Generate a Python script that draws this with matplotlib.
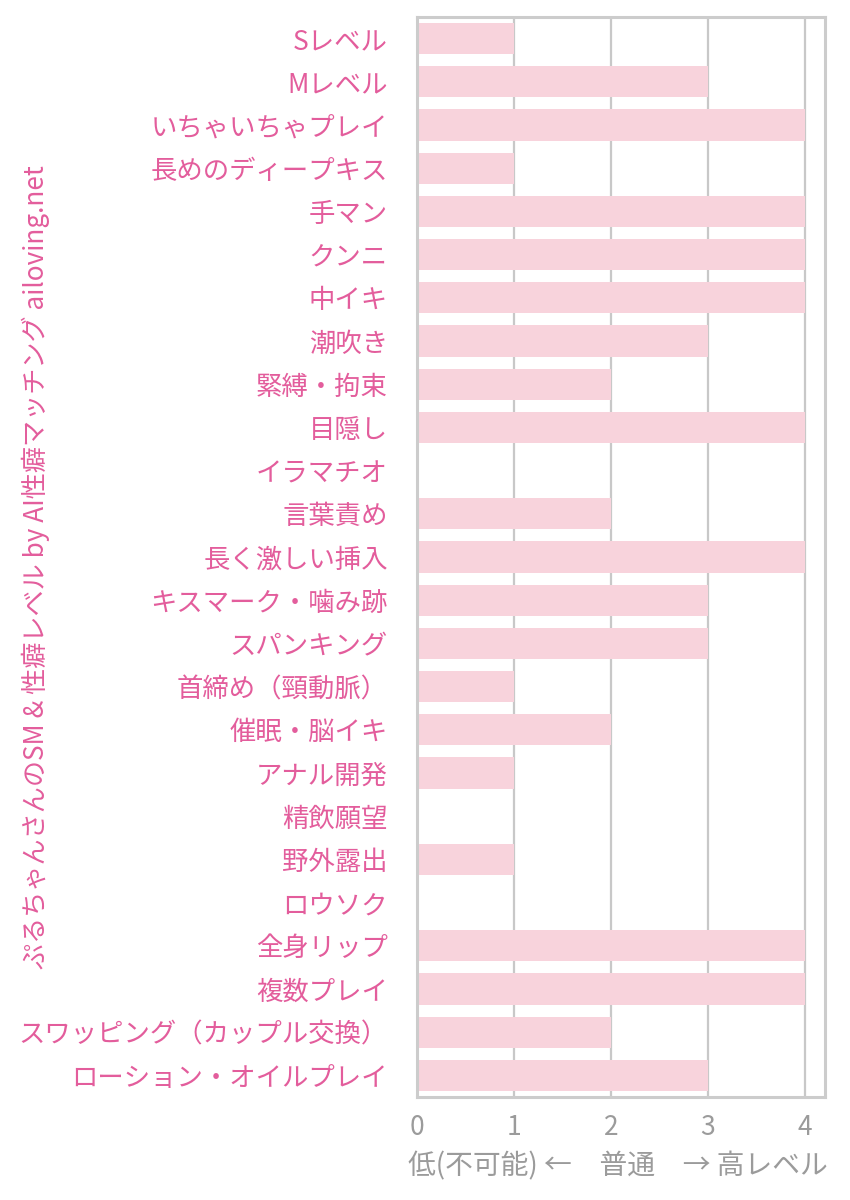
import matplotlib
matplotlib.use("Agg")
from matplotlib import pyplot as plt

plt.rcParams['font.family'] = ['Noto Sans CJK JP', 'DejaVu Sans']

# 項目と性癖レベル (0-4)
categories = [
    'Sレベル', 'Mレベル', 'いちゃいちゃプレイ', '長めのディープキス', '手マン',
    'クンニ', '中イキ', '潮吹き', '緊縛・拘束', '目隠し',
    'イラマチオ', '言葉責め', '長く激しい挿入', 'キスマーク・噛み跡', 'スパンキング',
    '首締め（頸動脈）', '催眠・脳イキ', 'アナル開発', '精飲願望', '野外露出',
    'ロウソク', '全身リップ', '複数プレイ', 'スワッピング（カップル交換）', 'ローション・オイルプレイ',
]
levels = [1, 3, 4, 1, 4, 4, 4, 3, 2, 4, 0, 2, 4, 3, 3, 1, 2, 1, 0, 1, 0, 4, 4, 2, 3]
xticks = [0, 1, 2, 3, 4]
xlabel = '低(不可能) ←　普通　→ 高レベル'
side_title = 'ぷるちゃんさんのSM & 性癖レベル by AI性癖マッチング ailoving.net'

pink = '#e35d9c'
bar_color = '#f8d3dc'
gray = '#9b9b9b'
frame = '#cccccc'

fig = plt.figure(figsize=(8.5, 12), dpi=100)
ax = fig.add_axes([0.4906, 0.0858, 0.4800, 0.9000])

y = list(range(len(categories)))
ax.barh(y, levels, height=0.72, color=bar_color, zorder=2)
ax.set_ylim(len(categories) - 0.5, -0.5)
ax.set_xlim(0, 4.21)

ax.set_yticks(y)
ax.set_yticklabels(categories, color=pink, fontsize=19)
ax.set_xticks(xticks)
ax.set_xticklabels([str(t) for t in xticks], color=gray, fontsize=19)
ax.tick_params(axis='y', length=0, pad=21)
ax.tick_params(axis='x', length=0, pad=12)

ax.grid(axis='x', color='#c8c8c8', linewidth=1.6, zorder=1)
ax.set_axisbelow(True)
for s in ax.spines.values():
    s.set_color(frame)
    s.set_linewidth(2.2)

fig.text(618 / 850, 1 - 1166 / 1200, xlabel, color=gray, fontsize=20,
         ha='center', va='center')
fig.text(36 / 850, 1 - 567 / 1200, side_title, color=pink, fontsize=18.8,
         rotation=90, ha='center', va='center')

fig.savefig('out.png', dpi=100, facecolor='white')
